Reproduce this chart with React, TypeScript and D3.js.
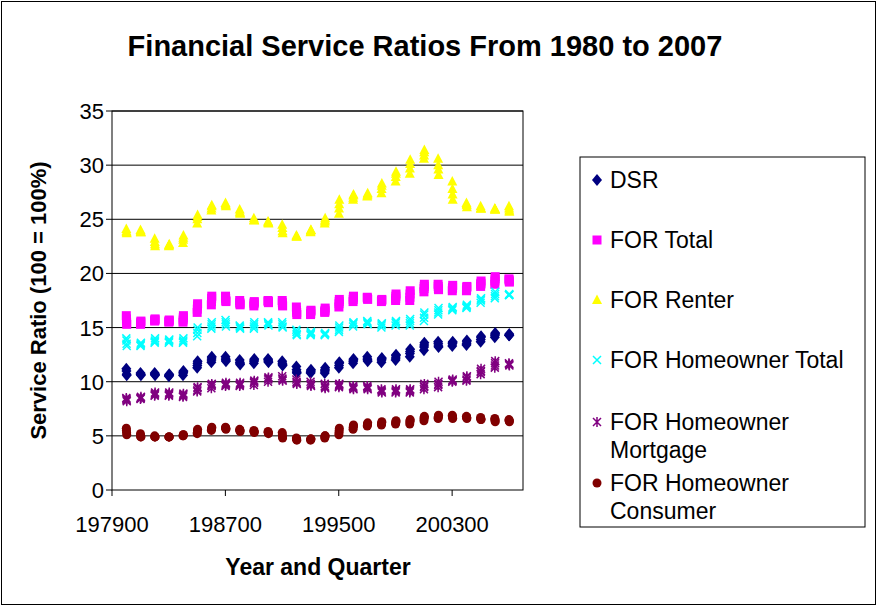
import React from "react";
import * as d3 from "d3";

const years = d3.range(1980, 2008);
const quarters = [1, 2, 3, 4];
const xTicks = [197900, 198700, 199500, 200300];
const yTicks = [0, 5, 10, 15, 20, 25, 30, 35];

const dsr = [11.2,11.0,10.7,10.6, 10.8,10.7,10.7,10.6, 10.8,10.7,10.7,10.6, 10.5,10.6,10.6,10.7, 10.6,10.8,10.9,11.0, 11.3,11.5,11.7,11.9, 11.8,12.0,12.2,12.3, 12.3,12.1,12.0,11.9, 12.0,11.8,11.7,11.6, 11.7,11.9,12.0,12.1, 12.1,12.0,11.9,11.8, 11.9,11.7,11.6,11.5, 11.4,11.1,10.9,10.8, 10.8,10.9,11.0,11.1, 10.8,11.0,11.1,11.3, 11.3,11.5,11.7,11.8, 11.7,11.9,12.0,12.1, 12.3,12.1,12.0,11.9, 11.8,12.0,12.1,12.2, 12.0,12.2,12.4,12.5, 12.3,12.6,12.8,13.0, 12.9,13.2,13.4,13.6, 13.7,13.5,13.3,13.2, 13.3,13.5,13.6,13.7, 13.4,13.5,13.7,13.8, 13.7,13.9,14.1,14.2, 14.1,14.3,14.4,14.5, 14.3,14.3,14.4,14.3];
const forTotal = [16.1,15.8,15.5,15.3, 15.3,15.4,15.5,15.6, 15.6,15.7,15.7,15.8, 15.5,15.6,15.6,15.7, 15.5,15.7,15.9,16.1, 16.4,16.7,17.0,17.2, 17.1,17.4,17.7,17.9, 17.9,17.7,17.5,17.4, 17.5,17.3,17.2,17.1, 17.0,17.2,17.3,17.4, 17.5,17.4,17.4,17.3, 17.5,17.3,17.1,17.0, 16.9,16.6,16.4,16.2, 16.2,16.3,16.5,16.6, 16.4,16.5,16.6,16.8, 16.9,17.2,17.4,17.6, 17.4,17.6,17.8,17.9, 17.8,17.7,17.7,17.6, 17.4,17.5,17.5,17.6, 17.5,17.7,17.9,18.1, 17.5,17.8,18.1,18.4, 18.3,18.6,18.8,19.0, 19.0,18.8,18.6,18.5, 18.4,18.6,18.7,18.9, 18.4,18.5,18.7,18.8, 18.8,19.0,19.1,19.3, 19.0,19.3,19.5,19.7, 19.5,19.4,19.3,19.2];
const forRenter = [24.1,23.9,23.8,23.7, 24.0,23.9,23.8,23.8, 23.2,22.9,22.7,22.5, 22.5,22.6,22.6,22.7, 22.8,23.1,23.3,23.5, 24.6,25.0,25.2,25.4, 25.8,26.0,26.2,26.3, 26.5,26.4,26.3,26.2, 25.9,25.7,25.6,25.5, 25.1,24.9,24.9,24.9, 24.8,24.7,24.7,24.6, 24.5,24.2,23.9,23.7, 23.5,23.4,23.4,23.4, 23.8,23.9,24.0,24.0, 24.6,24.8,24.9,25.1, 25.5,26.0,26.4,26.8, 26.8,27.0,27.2,27.3, 27.1,27.2,27.3,27.4, 27.4,27.8,28.1,28.3, 28.5,28.9,29.2,29.4, 29.2,29.7,30.1,30.5, 30.6,30.9,31.2,31.4, 30.6,30.0,29.6,29.1, 28.5,27.8,27.3,26.8, 26.5,26.4,26.3,26.1, 26.2,26.0,26.0,26.0, 26.0,25.9,25.9,25.9, 26.2,26.0,25.8,25.7];
const forHomeTotal = [14.0,13.8,13.5,13.3, 13.3,13.4,13.5,13.6, 13.6,13.7,13.8,14.0, 13.6,13.7,13.8,13.9, 13.6,13.7,13.8,14.0, 14.2,14.5,14.8,15.0, 14.9,15.1,15.3,15.5, 15.7,15.5,15.3,15.1, 15.2,15.1,15.0,14.9, 14.9,15.1,15.3,15.5, 15.5,15.4,15.3,15.2, 15.5,15.3,15.1,15.0, 14.8,14.6,14.4,14.3, 14.3,14.4,14.5,14.6, 14.3,14.4,14.4,14.5, 14.6,14.8,15.0,15.2, 15.1,15.3,15.4,15.5, 15.6,15.5,15.4,15.3, 15.0,15.2,15.3,15.4, 15.2,15.4,15.5,15.6, 15.2,15.4,15.6,15.8, 15.6,15.9,16.2,16.4, 16.2,16.4,16.6,16.8, 16.6,16.7,16.8,16.9, 16.8,16.9,17.0,17.1, 17.3,17.5,17.6,17.7, 17.7,17.9,18.1,18.3, 18.0,18.0,18.1,18.0];
const forMortgage = [8.5,8.4,8.3,8.2, 8.4,8.5,8.5,8.6, 8.7,8.8,8.9,9.0, 8.7,8.8,8.9,9.0, 8.6,8.7,8.8,8.9, 9.1,9.2,9.4,9.5, 9.4,9.6,9.7,9.8, 9.6,9.7,9.8,9.9, 9.6,9.7,9.8,9.9, 9.7,9.9,10.0,10.1, 10.0,10.2,10.3,10.4, 10.5,10.3,10.2,10.1, 10.2,10.0,9.9,9.8, 10.0,9.8,9.7,9.6, 9.8,9.6,9.5,9.4, 9.5,9.6,9.7,9.8, 9.6,9.5,9.4,9.3, 9.6,9.5,9.4,9.3, 9.3,9.2,9.1,9.0, 9.0,9.1,9.2,9.3, 9.0,9.1,9.2,9.3, 9.3,9.5,9.6,9.8, 9.5,9.7,9.8,10.0, 10.0,10.1,10.1,10.2, 10.1,10.2,10.4,10.5, 10.7,10.9,11.0,11.2, 11.3,11.5,11.7,11.9, 11.7,11.6,11.6,11.5];
const forConsumer = [5.7,5.5,5.3,5.1, 5.2,5.0,4.9,4.9, 5.0,4.9,4.9,4.9, 4.9,4.9,4.9,4.9, 5.0,5.0,5.1,5.1, 5.2,5.3,5.5,5.6, 5.5,5.6,5.7,5.8, 5.8,5.7,5.7,5.6, 5.6,5.5,5.5,5.4, 5.5,5.4,5.4,5.3, 5.4,5.3,5.3,5.2, 5.3,5.1,4.9,4.8, 4.8,4.7,4.7,4.6, 4.6,4.7,4.7,4.7, 4.8,4.9,5.0,5.0, 5.1,5.3,5.5,5.7, 5.6,5.8,5.9,6.0, 5.9,6.0,6.1,6.2, 6.0,6.1,6.2,6.3, 6.1,6.2,6.3,6.4, 6.1,6.3,6.4,6.5, 6.4,6.6,6.7,6.8, 6.6,6.7,6.8,6.9, 6.9,6.8,6.7,6.6, 6.8,6.7,6.7,6.6, 6.7,6.6,6.5,6.5, 6.6,6.5,6.4,6.3, 6.5,6.4,6.4,6.3];

const seriesNames = ["DSR", "FOR Total", "FOR Renter", "FOR Homeowner Total", "FOR Homeowner Mortgage", "FOR Homeowner Consumer"];
const seriesValues = [dsr, forTotal, forRenter, forHomeTotal, forMortgage, forConsumer];
const colors = ["#000080", "#FF00FF", "#FFFF00", "#00FFFF", "#800080", "#800000"];
const shapes = ["diamond", "square", "triangle", "x", "star", "circle"];

const periods = years.flatMap((y) => quarters.map((q) => y * 100 + q));

function Marker({ shape, color, x, y }: { shape: string; color: string; x: number; y: number }) {
  const s = 5;
  if (shape === "diamond") return <path d={`M${x},${y - s - 1}L${x + s},${y}L${x},${y + s + 1}L${x - s},${y}Z`} fill={color} />;
  if (shape === "square") return <rect x={x - 4.5} y={y - 4.5} width={9} height={9} fill={color} />;
  if (shape === "triangle") return <path d={`M${x},${y - 5.5}L${x + 5},${y + 4}L${x - 5},${y + 4}Z`} fill={color} />;
  if (shape === "circle") return <circle cx={x} cy={y} r={4.5} fill={color} />;
  if (shape === "x")
    return <path d={`M${x - 4},${y - 4}L${x + 4},${y + 4}M${x + 4},${y - 4}L${x - 4},${y + 4}`} stroke={color} strokeWidth={1.5} />;
  return (
    <path
      d={`M${x - 4},${y - 4}L${x + 4},${y + 4}M${x + 4},${y - 4}L${x - 4},${y + 4}M${x},${y - 5}L${x},${y + 5}`}
      stroke={color}
      strokeWidth={1.5}
    />
  );
}

export default function App() {
  const W = 878, H = 607;
  const left = 112, right = 523, top = 111, bottom = 490;
  const x = d3.scaleLinear().domain([197900, 200800]).range([left, right]);
  const y = d3.scaleLinear().domain([0, 35]).range([bottom, top]);
  const font = "Arial, 'Liberation Sans', sans-serif";
  const legendY = [180, 240, 300, 360, 422, 483];
  return (
    <svg width={W} height={H} style={{ position: "absolute", left: 0, top: 0 }} fontFamily={font}>
      <rect x={0} y={0} width={W} height={H} fill="white" />
      <rect x={1.5} y={1.5} width={W - 4} height={H - 4} fill="none" stroke="black" strokeWidth={1} />
      <text x={425} y={56} textAnchor="middle" fontSize={29} fontWeight="bold">Financial Service Ratios From 1980 to 2007</text>
      {yTicks.map((t) => (
        <g key={t}>
          {t > 0 && <line x1={left} x2={right} y1={y(t)} y2={y(t)} stroke="black" />}
          <line x1={left - 6} x2={left} y1={y(t)} y2={y(t)} stroke="black" />
          <text x={left - 8} y={y(t) + 8} textAnchor="end" fontSize={22}>{t}</text>
        </g>
      ))}
      <rect x={left} y={top} width={right - left} height={bottom - top} fill="none" stroke="black" />
      {xTicks.map((t) => (
        <g key={t}>
          <line x1={x(t)} x2={x(t)} y1={bottom} y2={bottom + 6} stroke="black" />
          <text x={x(t)} y={bottom + 42} textAnchor="middle" fontSize={22}>{t}</text>
        </g>
      ))}
      <text x={318} y={575} textAnchor="middle" fontSize={23} fontWeight="bold">Year and Quarter</text>
      <text transform={`translate(46,${(top + bottom) / 2}) rotate(-90)`} textAnchor="middle" fontSize={22} fontWeight="bold">Service Ratio (100 = 100%)</text>
      {seriesValues.map((vals, si) =>
        vals.map((v, i) => <Marker key={`${si}-${i}`} shape={shapes[si]} color={colors[si]} x={x(periods[i])} y={y(v)} />)
      )}
      <rect x={580} y={157} width={285} height={370} fill="white" stroke="black" />
      {seriesNames.map((n, i) => {
        const words = n.startsWith("FOR Homeowner") && n !== "FOR Homeowner Total" ? ["FOR Homeowner", n.replace("FOR Homeowner ", "")] : [n];
        return (
          <g key={n}>
            <Marker shape={shapes[i]} color={colors[i]} x={597} y={legendY[i]} />
            {words.map((w, j) => (
              <text key={j} x={610} y={legendY[i] + 8 + j * 28} fontSize={23}>{w}</text>
            ))}
          </g>
        );
      })}
    </svg>
  );
}
